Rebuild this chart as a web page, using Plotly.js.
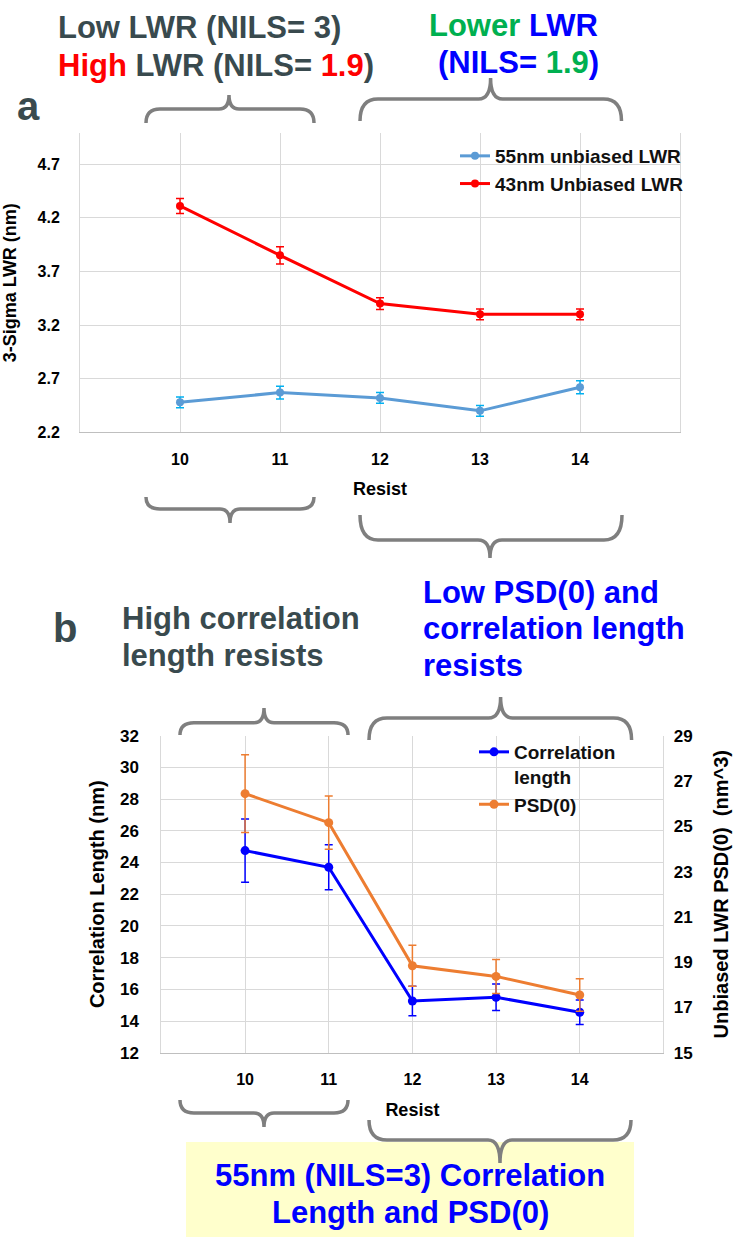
<!DOCTYPE html>
<html>
<head>
<meta charset="utf-8">
<script src="https://cdn.plot.ly/plotly-3.0.1.min.js"></script>
<style>html,body{margin:0;padding:0;background:#fff;}#chart{width:733px;height:1237px;}</style>
</head>
<body>
<div id="chart"></div>
<script>
// ---- data ----
const resist = [10, 11, 12, 13, 14];
const xTickVals = [9, 10, 11, 12, 13, 14, 15];
const xTickText = ['', '10', '11', '12', '13', '14', ''];
const lwr55 = [2.48, 2.57, 2.52, 2.40, 2.62];
const lwr55Err = [0.05, 0.06, 0.05, 0.05, 0.06];
const lwr43 = [4.31, 3.85, 3.40, 3.30, 3.30];
const lwr43Err = [0.07, 0.08, 0.055, 0.05, 0.05];
const corrLen = [24.75, 23.7, 15.26, 15.5, 14.55];
const corrLenErr = [2.0, 1.42, 0.93, 0.83, 0.77];
const psd0 = [26.44, 25.16, 18.84, 18.37, 17.55];
const psd0Err = [1.72, 1.18, 0.9, 0.75, 0.72];
const lwrTicks = [2.2, 2.7, 3.2, 3.7, 4.2, 4.7];

// ---- layout helpers (pixel -> paper) ----
const W = 733, H = 1237;
const px = x => x / W;
const py = y => 1 - y / H;
const P = (x, y) => px(x).toFixed(5) + ',' + py(y).toFixed(5);

function brace(x1, x2, yEnd, yBar, xTip, yTip, r, t) {
  return 'M' + P(x1, yEnd) +
    ' Q' + P(x1, yBar) + ' ' + P(x1 + r, yBar) +
    ' L' + P(xTip - t, yBar) +
    ' Q' + P(xTip, yBar) + ' ' + P(xTip, yTip) +
    ' Q' + P(xTip, yBar) + ' ' + P(xTip + t, yBar) +
    ' L' + P(x2 - r, yBar) +
    ' Q' + P(x2, yBar) + ' ' + P(x2, yEnd);
}

const FONT = 'Liberation Sans, Arial, sans-serif';
const DARK = '#394A4E';
const BLUE = '#0000FF';
const GREEN = '#00B050';
const RED = '#FF0000';
const GRID = '#D9D9D9';

const traces = [
  {
    x: resist, y: lwr55, name: '55nm unbiased LWR', type: 'scatter', mode: 'lines+markers',
    xaxis: 'x', yaxis: 'y', legend: 'legend',
    line: {color: '#5B9BD5', width: 3}, marker: {color: '#5B9BD5', size: 8},
    error_y: {type: 'data', array: lwr55Err, visible: true, color: '#00B0F0', thickness: 1.5, width: 4}
  },
  {
    x: resist, y: lwr43, name: '43nm Unbiased LWR', type: 'scatter', mode: 'lines+markers',
    xaxis: 'x', yaxis: 'y', legend: 'legend',
    line: {color: RED, width: 3}, marker: {color: RED, size: 8},
    error_y: {type: 'data', array: lwr43Err, visible: true, color: RED, thickness: 1.5, width: 4}
  },
  {
    x: resist, y: corrLen, name: 'Correlation<br>length', type: 'scatter', mode: 'lines+markers',
    xaxis: 'x2', yaxis: 'y2', legend: 'legend2',
    line: {color: BLUE, width: 3}, marker: {color: BLUE, size: 9},
    error_y: {type: 'data', array: corrLenErr, visible: true, color: BLUE, thickness: 1.5, width: 4}
  },
  {
    x: resist, y: psd0, name: 'PSD(0)', type: 'scatter', mode: 'lines+markers',
    xaxis: 'x2', yaxis: 'y3', legend: 'legend2',
    line: {color: '#ED7D31', width: 3}, marker: {color: '#ED7D31', size: 9},
    error_y: {type: 'data', array: psd0Err, visible: true, color: '#ED7D31', thickness: 1.5, width: 4}
  }
];

const tickFont = {family: FONT, size: 16, color: '#000', weight: 700};
const titleFont = {family: FONT, size: 18, color: '#000', weight: 700};

function ann(text, x, y, size, color, xanchor) {
  return {
    text: text, x: px(x), y: py(y), xref: 'paper', yref: 'paper',
    xanchor: xanchor || 'left', yanchor: 'middle', showarrow: false,
    font: {family: FONT, size: size, color: color, weight: 700}
  };
}

const braces = [
  [146, 314, 123, 109, 229, 95, 14, 10],
  [360, 621.5, 121, 99, 490.6, 78, 18, 12],
  [146, 314, 497, 509, 230, 523, 14, 10],
  [360, 622, 515, 540, 490, 558, 18, 12],
  [180, 348, 735, 722.7, 264, 708, 14, 10],
  [369, 631.6, 740, 718, 500.6, 697, 18, 12],
  [180, 348, 1100, 1113, 264, 1127, 14, 10],
  [369, 631, 1120, 1140, 500, 1163, 18, 12]
];

const shapes = [
  {type: 'rect', xref: 'paper', yref: 'paper', x0: px(186), x1: px(634), y0: py(1237), y1: py(1142),
   fillcolor: '#FFFFCC', line: {width: 0}, layer: 'below'}
].concat(braces.map(b => ({
  type: 'path', xref: 'paper', yref: 'paper', path: brace.apply(null, b),
  line: {color: '#7F7F7F', width: 3.5}
})));

const layout = {
  width: W, height: H,
  margin: {l: 0, r: 0, t: 0, b: 0, pad: 0},
  paper_bgcolor: '#fff', plot_bgcolor: 'rgba(0,0,0,0)',
  showlegend: true,
  xaxis: {
    domain: [px(80), px(680)], anchor: 'y', range: [9, 15],
    tickvals: xTickVals, ticktext: xTickText,
    showgrid: true, gridcolor: GRID, gridwidth: 1,
    showline: true, linecolor: '#BFBFBF', linewidth: 1,
    ticks: 'outside', ticklen: 12, tickcolor: 'rgba(0,0,0,0)',
    tickfont: tickFont, zeroline: false,
    title: {text: 'Resist', font: titleFont, standoff: 15}
  },
  yaxis: {
    domain: [py(432.3), py(133)], anchor: 'x', range: [2.2, 4.99],
    tickvals: lwrTicks, tickformat: '.1f',
    showgrid: true, gridcolor: GRID, gridwidth: 1,
    showline: true, mirror: true, linecolor: GRID, linewidth: 1,
    ticks: 'outside', ticklen: 16, tickcolor: 'rgba(0,0,0,0)',
    tickfont: tickFont, zeroline: false,
    title: {text: '3-Sigma LWR (nm)', font: {family: FONT, size: 18, color: '#000', weight: 700}, standoff: 18}
  },
  xaxis2: {
    domain: [px(161.4), px(663.4)], anchor: 'y2', range: [9, 15],
    tickvals: xTickVals, ticktext: xTickText,
    showgrid: true, gridcolor: GRID, gridwidth: 1,
    showline: true, linecolor: '#BFBFBF', linewidth: 1,
    ticks: 'outside', ticklen: 12, tickcolor: 'rgba(0,0,0,0)',
    tickfont: tickFont, zeroline: false,
    title: {text: 'Resist', font: titleFont, standoff: 16}
  },
  yaxis2: {
    domain: [py(1052.7), py(735.7)], anchor: 'x2', range: [12, 32], dtick: 2, tick0: 12,
    showgrid: true, gridcolor: GRID, gridwidth: 1,
    showline: true, linecolor: GRID, linewidth: 1,
    ticks: 'outside', ticklen: 18, tickcolor: 'rgba(0,0,0,0)',
    tickfont: {family: FONT, size: 17, color: '#000', weight: 700}, zeroline: false,
    title: {text: 'Correlation Length (nm)', font: {family: FONT, size: 20, color: '#000', weight: 700}, standoff: 10}
  },
  yaxis3: {
    overlaying: 'y2', anchor: 'x2', side: 'right', range: [15, 29], dtick: 2, tick0: 15,
    showgrid: false, showline: true, linecolor: GRID, linewidth: 1,
    ticks: 'outside', ticklen: 6, tickcolor: 'rgba(0,0,0,0)',
    tickfont: {family: FONT, size: 17, color: '#000', weight: 700}, zeroline: false,
    title: {text: 'Unbiased LWR PSD(0)  (nm^3)', font: {family: FONT, size: 20, color: '#000', weight: 700}, standoff: 22}
  },
  legend: {
    x: px(455), y: py(137), xanchor: 'left', yanchor: 'top',
    bgcolor: 'rgba(0,0,0,0)', borderwidth: 0,
    font: {family: FONT, size: 19, color: '#111', weight: 700},
    tracegroupgap: 0
  },
  legend2: {
    x: px(474), y: py(733), xanchor: 'left', yanchor: 'top',
    bgcolor: 'rgba(0,0,0,0)', borderwidth: 0, valign: 'top',
    font: {family: FONT, size: 19, color: '#111', weight: 700},
    tracegroupgap: 0
  },
  shapes: shapes,
  annotations: [
    ann('Low LWR (NILS= 3)', 56, 28, 31, DARK),
    ann('<span style="color:' + RED + '">High</span> LWR (NILS= <span style="color:' + RED + '">1.9</span>)', 56, 65, 31, DARK),
    ann('<span style="color:' + GREEN + '">Lower</span> LWR', 513, 25, 31, BLUE, 'center'),
    ann('(NILS= <span style="color:' + GREEN + '">1.9</span>)', 518, 63, 31, BLUE, 'center'),
    ann('a', 28, 106, 40, DARK, 'center'),
    ann('b', 65, 628, 40, DARK, 'center'),
    ann('High correlation', 120, 618, 31, DARK),
    ann('length resists', 120, 655, 31, DARK),
    ann('Low PSD(0) and', 421, 592, 31, BLUE),
    ann('correlation length', 421, 628, 31, BLUE),
    ann('resists', 421, 665, 31, BLUE),
    ann('55nm (NILS=3) Correlation', 410, 1175, 31, BLUE, 'center'),
    ann('Length and PSD(0)', 410, 1212, 31, BLUE, 'center')
  ]
};

Plotly.newPlot('chart', traces, layout, {displayModeBar: false, staticPlot: true});
</script>
</body>
</html>
